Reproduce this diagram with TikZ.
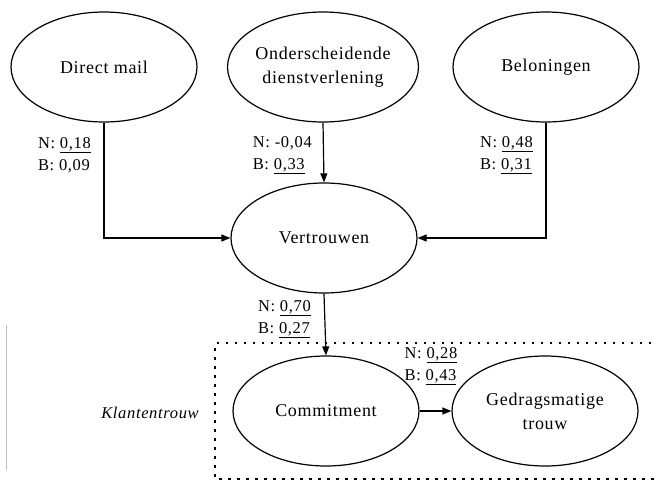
\documentclass[tikz,border=0pt]{standalone}
\usepackage{fontspec}
\setmainfont{Liberation Serif}[LetterSpace=4]
\usepackage{tikz}
\usetikzlibrary{arrows.meta,positioning,shapes.geometric,calc}

\begin{document}
\begin{tikzpicture}[
    x=1pt, y=-1pt,
    construct/.style={ellipse, draw=black, line width=1.2pt, minimum width=186pt,
      minimum height=110pt, inner sep=0pt, align=center,
      font=\fontsize{18}{24}\selectfont},
    coef/.style={align=left, inner sep=0pt, font=\fontsize{16.5}{22}\selectfont},
    arr/.style={line width=1.2pt, -{Triangle[length=9pt,width=7pt]}}
  ]
    \useasboundingbox (0,0) rectangle (656,482);

    % Antecedents
    \node[construct] (dm)  at (104,67) {Direct mail};
    \node[construct] (od)  at (323,67) {Onderscheidende\\dienstverlening};
    \node[construct] (bel) at (546,67) {Beloningen};

    % Mediator
    \node[construct] (vt) at (324,238) {Vertrouwen};

    % Loyalty block
    \node[construct] (com) at (326,411) {Commitment};
    \node[construct] (gm)  at (545,411) {Gedragsmatige\\trouw};

    % Paths
    \draw[arr] (dm.south) |- (vt.west);
    \draw[arr] (od.south) -- (vt.north);
    \draw[arr] (bel.south) |- (vt.east);
    \draw[arr] (vt.south) -- (com.north);
    \draw[arr] (com.east) -- (gm.west);

    % Coefficients
    \node[coef, anchor=east] (cdm)  at (91,155)  {N: \underline{0,18}\\B: 0,09};
    \node[coef, anchor=east] (cod)  at (312,155) {N: -0,04\\B: \underline{0,33}};
    \node[coef, anchor=east] (cbel) at (533,155) {N: \underline{0,48}\\B: \underline{0,31}};
    \node[coef, anchor=east] (cvt)  at (311,319) {N: \underline{0,70}\\B: \underline{0,27}};
    \node[coef] (ccom) at (431,366) {N: \underline{0,28}\\B: \underline{0,43}};

    % Klantentrouw frame
    \draw[line width=1.3pt, dash pattern=on 2.5pt off 6.5pt]
      (660,343) -- (215,343) -- (215,479) -- (660,479);
    \node[font=\fontsize{16.5}{20}\selectfont\itshape] (kt) at (150,413) {Klantentrouw};

    % scan edge
    \draw[gray!50, line width=0.8pt] (6,325) -- (6,470);
  \end{tikzpicture}
\end{document}
